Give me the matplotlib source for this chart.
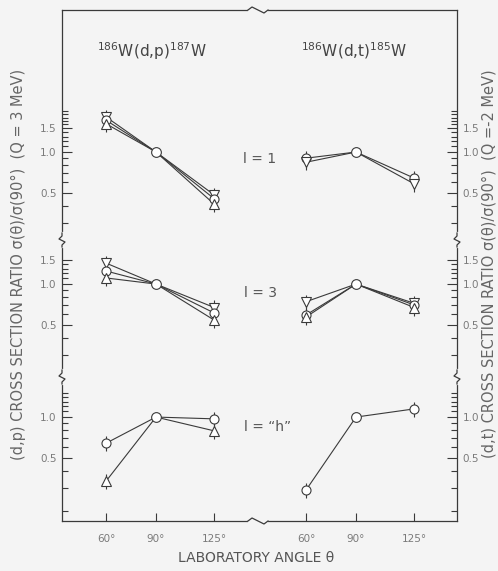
import matplotlib.pyplot as plt
from matplotlib.lines import Line2D

# laboratory angles (deg)
angles = [60, 90, 125]
dt_shift = 120  # (d,t) block is drawn to the right of the (d,p) block

# (d,p) ratios sigma(theta)/sigma(90)
dp_l1 = [[1.82, 1.0, 0.48], [1.72, 1.0, 0.45], [1.62, 1.0, 0.41]]
dp_l3 = [[1.43, 1.0, 0.67], [1.25, 1.0, 0.61], [1.11, 1.0, 0.54]]
dp_lh = [[0.64, 1.0, 0.97], [0.335, 1.0, 0.79]]

# (d,t) ratios
dt_l1 = [[0.90, 1.0, 0.64], [0.84, 1.0, 0.58]]
dt_l3 = [[0.74, 1.0, 0.72], [0.59, 1.0, 0.70], [0.57, 1.0, 0.67]]
dt_lh = [[0.288, 1.0, 1.15]]

# relative errors at each angle
rel_err = [0.13, 0.0, 0.13]

marks_l1 = ['v', 'o', '^']
marks_l3 = ['v', 'o', '^']
marks_lh = ['o', '^']

W, H = 498, 571
fig = plt.figure(figsize=(W / 100, H / 100), dpi=100)
bg = '#f4f4f4'
fig.patch.set_facecolor(bg)

ink = '#3a3a3a'
grey = '#7a7a7a'


def add_panel(top, bottom, ylo, yhi):
    ax = fig.add_axes([62 / W, 1 - bottom / H, (457 - 62) / W, (bottom - top) / H])
    ax.set_facecolor(bg)
    ax.set_yscale('log')
    ax.set_ylim(ylo, yhi)
    ax.set_xlim(33.6, 270.6)
    for s in ax.spines.values():
        s.set_color(ink)
        s.set_linewidth(0.9)
    return ax


ax1 = add_panel(10, 240, 0.223, 11.27)
ax2 = add_panel(240, 377, 0.205, 2.12)
ax3 = add_panel(377, 521, 0.170, 1.98)
ax1.spines['bottom'].set_visible(False)
ax2.spines['top'].set_visible(False)
ax2.spines['bottom'].set_visible(False)
ax3.spines['top'].set_visible(False)

minor_hi = [1.1, 1.2, 1.3, 1.4]
minor_mid = [0.6, 0.7, 0.8, 0.9]
ticks_setup = [
    (ax1, [0.5, 1.0, 1.5], ['0.5', '1.0', '1.5'], [0.3, 0.4] + minor_mid + minor_hi + [1.6, 1.7, 1.8, 1.9, 2.0]),
    (ax2, [0.5, 1.0, 1.5], ['0.5', '1.0', '1.5'], [0.3, 0.4] + minor_mid + minor_hi),
    (ax3, [0.5, 1.0], ['0.5', '1.0'], [0.2, 0.3, 0.4] + minor_mid + minor_hi + [1.5]),
]
for ax, major, labels, minor in ticks_setup:
    ax.set_yticks(major)
    ax.set_yticklabels(labels)
    ax.set_yticks(minor, minor=True)
    ax.yaxis.set_minor_formatter(plt.NullFormatter())
    ax.tick_params(axis='y', which='both', direction='in', left=True, right=True,
                   labelleft=True, labelright=True, colors=ink, labelcolor=grey,
                   labelsize=7.5, width=0.8)
    ax.tick_params(axis='y', which='major', length=7, pad=4)
    ax.tick_params(axis='y', which='minor', length=4.5)
    for lab in ax.get_yticklabels():
        lab.set_color(grey)

for ax in (ax1, ax2):
    ax.set_xticks([])

xt = angles + [a + dt_shift for a in angles]
ax3.set_xticks(xt)
ax3.set_xticklabels(['60°', '90°', '125°'] * 2)
ax3.tick_params(axis='x', direction='in', length=6, width=0.8, colors=ink,
                labelcolor=grey, labelsize=7.5, pad=9)


def draw(ax, sets, marks, shift=0):
    xs = [a + shift for a in angles]
    for vals, m in zip(sets, marks):
        ax.plot(xs, vals, '-', color=ink, lw=0.8, zorder=2, clip_on=False)
        ends = [0, 2]
        ex = [xs[i] for i in ends]
        ey = [vals[i] for i in ends]
        ee = [vals[i] * rel_err[i] for i in ends]
        ax.errorbar(ex, ey, yerr=ee, fmt='none', ecolor=ink, elinewidth=0.8,
                    capsize=0, zorder=1, clip_on=False)
        ax.plot(ex, ey, ls='none', marker=m, ms=6.5, mfc='white', mec=ink,
                mew=0.8, zorder=3, clip_on=False)
    # all sets are normalised at 90 deg
    ax.plot([xs[1]], [sets[0][1]], ls='none', marker='o', ms=7, mfc='white',
            mec=ink, mew=0.8, zorder=4, clip_on=False)


draw(ax1, dp_l1, marks_l1)
draw(ax2, dp_l3, marks_l3)
draw(ax3, dp_lh, marks_lh)
draw(ax1, dt_l1, ['o', 'v'], dt_shift)
draw(ax2, dt_l3, ['v', 'o', '^'], dt_shift)
draw(ax3, dt_lh, ['o'], dt_shift)


# axis-break marks, in pixel units of the figure
def fig_line(xs, ys, **kw):
    fig.add_artist(Line2D([x / W for x in xs], [1 - y / H for y in ys],
                          transform=fig.transFigure, **kw))


for x0 in (62, 457):
    for y0 in (240, 377):
        fig_line([x0, x0], [y0 - 6, y0 + 6], color=bg, lw=3, zorder=10)
        fig_line([x0, x0, x0 - 3, x0 + 3, x0, x0], [y0 - 7, y0 - 4, y0 - 1, y0 + 2, y0 + 5, y0 + 7],
                 color=ink, lw=0.9, zorder=11)
for y0 in (10, 521):
    fig_line([250, 266], [y0, y0], color=bg, lw=3, zorder=10)
    fig_line([248, 252, 258, 264, 268], [y0, y0 - 3, y0, y0 + 3, y0], color=ink, lw=0.9, zorder=11)


def ftext(x, y, s, **kw):
    fig.text(x / W, 1 - y / H, s, ha='center', va='center', **kw)


ftext(152, 51, r'$^{186}$W(d,p)$^{187}$W', fontsize=11, color='#444444')
ftext(354, 51, r'$^{186}$W(d,t)$^{185}$W', fontsize=11, color='#444444')
ftext(260, 159, 'l = 1', fontsize=10, color='#555555')
ftext(260, 293, 'l = 3', fontsize=10, color='#555555')
ftext(268, 427, 'l = \u201ch\u201d', fontsize=10, color='#555555')
ftext(256, 558, 'LABORATORY ANGLE θ', fontsize=10, color='#555555')
ftext(18, 264, '(d,p) CROSS SECTION RATIO σ(θ)/σ(90°)  (Q = 3 MeV)', fontsize=10.5,
      rotation=90, color='#666666')
ftext(489, 264, '(d,t) CROSS SECTION RATIO σ(θ)/σ(90°)  (Q =-2 MeV)', fontsize=10.5,
      rotation=90, color='#666666')

plt.savefig('out.png', dpi=100, facecolor=fig.get_facecolor())
